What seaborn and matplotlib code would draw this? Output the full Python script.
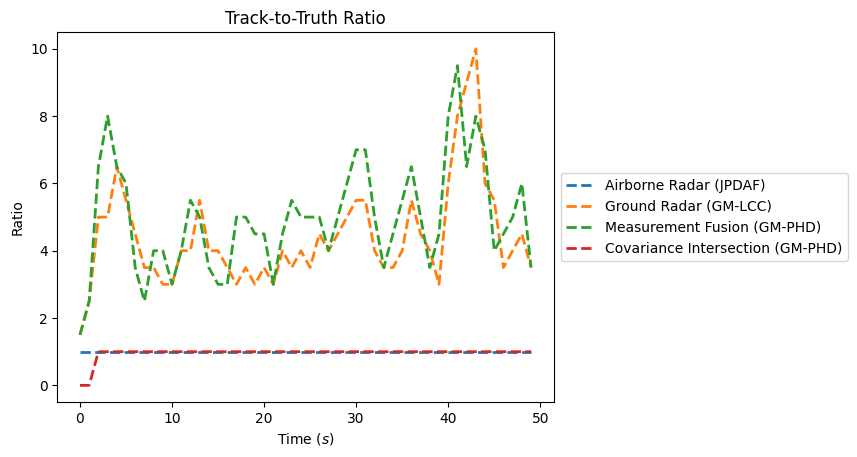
import numpy as np
import pandas as pd
import matplotlib
matplotlib.use("Agg")
import matplotlib.pyplot as plt
import seaborn as sns

# ==========================
# data
# ==========================
time_steps = list(range(50))

airborne_jpdaf = [1.0] * 50

ground_gmlcc = [1.5, 2.5, 5.0, 5.0, 6.5, 5.5, 4.5, 3.5, 3.5, 3.0,
                3.0, 4.0, 4.0, 5.5, 4.0, 4.0, 3.5, 3.0, 3.5, 3.0,
                3.5, 3.0, 4.0, 3.5, 4.0, 3.5, 4.5, 4.0, 4.5, 5.0,
                5.5, 5.5, 4.0, 3.5, 3.5, 4.0, 5.5, 4.5, 4.0, 3.0,
                6.0, 8.0, 9.0, 10.0, 6.0, 5.5, 3.5, 4.0, 4.5, 3.5]

fusion_gmphd = [1.5, 2.5, 6.5, 8.0, 6.5, 6.0, 3.5, 2.5, 4.0, 4.0,
                3.0, 4.0, 5.5, 5.0, 3.5, 3.0, 3.0, 5.0, 5.0, 4.5,
                4.5, 3.0, 4.5, 5.5, 5.0, 5.0, 5.0, 4.0, 5.0, 6.0,
                7.0, 7.0, 5.0, 3.5, 4.5, 5.5, 6.5, 5.0, 3.5, 4.5,
                8.0, 9.5, 6.5, 8.0, 7.0, 4.0, 4.5, 5.0, 6.0, 3.5]

ci_gmphd = [0.0, 0.0] + [1.0] * 48

series_names = ["Airborne Radar (JPDAF)", "Ground Radar (GM-LCC)",
                "Measurement Fusion (GM-PHD)", "Covariance Intersection (GM-PHD)"]
series_values = [airborne_jpdaf, ground_gmlcc, fusion_gmphd, ci_gmphd]

# ==========================
# plot
# ==========================
palette = sns.color_palette("tab10")

fig, ax = plt.subplots(figsize=(8.57, 4.57), dpi=100)
fig.subplots_adjust(left=0.067, right=0.646, top=0.930, bottom=0.12)

for i, (name, vals) in enumerate(zip(series_names, series_values)):
    df = pd.DataFrame({"t": time_steps, "ratio": vals})
    sns.lineplot(data=df, x="t", y="ratio", ax=ax, color=palette[i],
                 linestyle="--", linewidth=2, label=name)

ax.set_title("Track-to-Truth Ratio")
ax.set_xlabel("Time ($s$)")
ax.set_ylabel("Ratio")
ax.legend(loc="center left", bbox_to_anchor=(1.0, 0.5))

plt.savefig("out.png", dpi=100)
